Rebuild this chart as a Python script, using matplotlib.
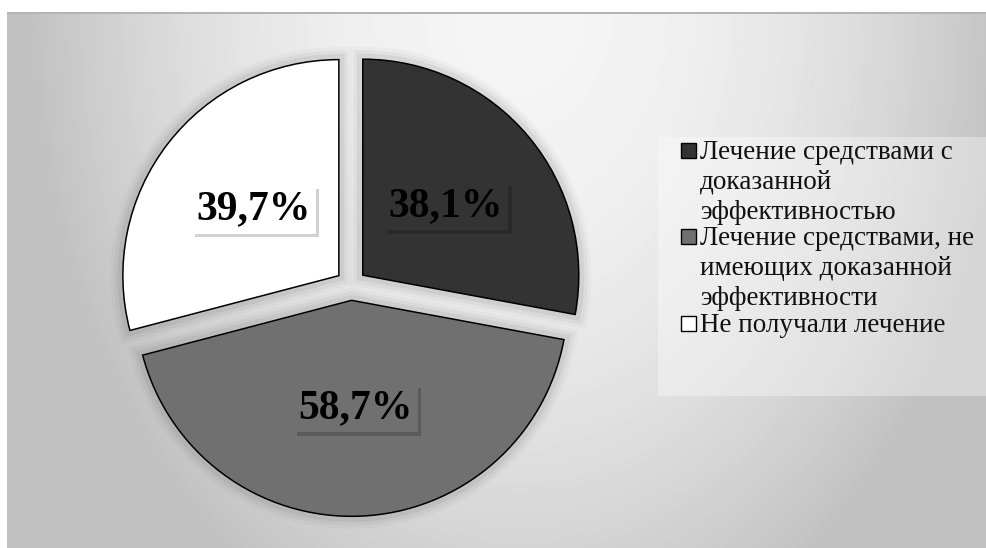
import numpy as np
import matplotlib
matplotlib.use("Agg")
import matplotlib.pyplot as plt
import matplotlib.patheffects as pe
from matplotlib.patches import Rectangle

SERIF = "Liberation Serif"
plt.rcParams['font.family'] = 'serif'
plt.rcParams['font.serif'] = [SERIF, 'DejaVu Serif']

# --- data ---
categories = [
    "Лечение средствами с\nдоказанной\nэффективностью",
    "Лечение средствами, не\nимеющих доказанной\nэффективности",
    "Не получали лечение",
]
values = [38.1, 58.7, 39.7]
slice_colors = ["#333333", "#707070", "#ffffff"]

W, H = 987, 548
fig = plt.figure(figsize=(W / 100, H / 100), dpi=100)
fig.patch.set_facecolor("white")

def fx(px):
    return px / W

def fy(py):
    # py counted from the top edge
    return 1 - py / H

# --- radial grey background panel ---
x0, y0 = 7, 14
xs = np.arange(x0, W) + 0.5
ys = np.arange(y0, H) + 0.5
XX, YY = np.meshgrid(xs, ys)
r = np.hypot(XX - 520, YY / 1.4)
shade = 245 - 54 * (r / 500) ** 2
shade = np.clip(shade, 192, 248) / 255.0
bg = fig.add_axes([fx(x0), 0, fx(W - x0), (H - y0) / H])
bg.imshow(shade, cmap="gray", vmin=0, vmax=1, aspect="auto", interpolation="bilinear")
bg.set_axis_off()
fig.add_artist(Rectangle((fx(x0), fy(14)), fx(W - x0), 2 / H,
                         transform=fig.transFigure, facecolor="#b4b4b4", edgecolor="none"))

# --- pie ---
R_PX = 216
cx, cy = 351, 285
half = 1.25 * R_PX
ax = fig.add_axes([fx(cx - half), fy(cy + half), 2 * half / W, 2 * half / H])
ax.set_axis_off()
total = sum(values)

def fmt(p):
    return f"{p * total / 100:.1f}%".replace(".", ",")

wedges, texts, autotexts = ax.pie(
    values, colors=slice_colors, explode=[0.071] * 3, startangle=90,
    counterclock=False, autopct=fmt, pctdistance=0.5,
    wedgeprops=dict(edgecolor="black", linewidth=1.1),
)
ax.set_xlim(-1.25, 1.25)
ax.set_ylim(-1.25, 1.25)

# soft dark shadow around each slice
halo = [
    pe.Stroke(linewidth=18, foreground="black", alpha=0.025),
    pe.Stroke(linewidth=13, foreground="black", alpha=0.035),
    pe.Stroke(linewidth=8, foreground="black", alpha=0.05),
    pe.Normal(),
]
for w in wedges:
    w.set_path_effects(halo)

for t, c in zip(autotexts, slice_colors):
    t.set_fontfamily(SERIF)
    t.set_fontsize(30)
    t.set_fontweight("bold")
    t.set_color("black")
    t.set_bbox(dict(facecolor=c, edgecolor="none", boxstyle="square,pad=0.12"))
    t.get_bbox_patch().set_path_effects([
        pe.SimplePatchShadow(offset=(2.5, -2.5), shadow_rgbFace="black", alpha=0.18),
        pe.Normal(),
    ])

# --- legend panel ---
fig.add_artist(Rectangle((fx(658), fy(396)), fx(W - 658), 259 / H,
                         transform=fig.transFigure, facecolor="white",
                         alpha=0.35, edgecolor="none"))

first_baselines = [159, 245, 332]
line_step = 30
for label, color, base in zip(categories, slice_colors, first_baselines):
    fig.add_artist(Rectangle((fx(681), fy(base - 1)), 15 / W, 15 / H,
                             transform=fig.transFigure, facecolor=color,
                             edgecolor="black", linewidth=1.0))
    for i, line in enumerate(label.split("\n")):
        fig.text(fx(700), fy(base + i * line_step), line, fontsize=19.5,
                 fontfamily=SERIF, va="baseline", ha="left", color="#111111")

fig.savefig("out.png", dpi=100)
